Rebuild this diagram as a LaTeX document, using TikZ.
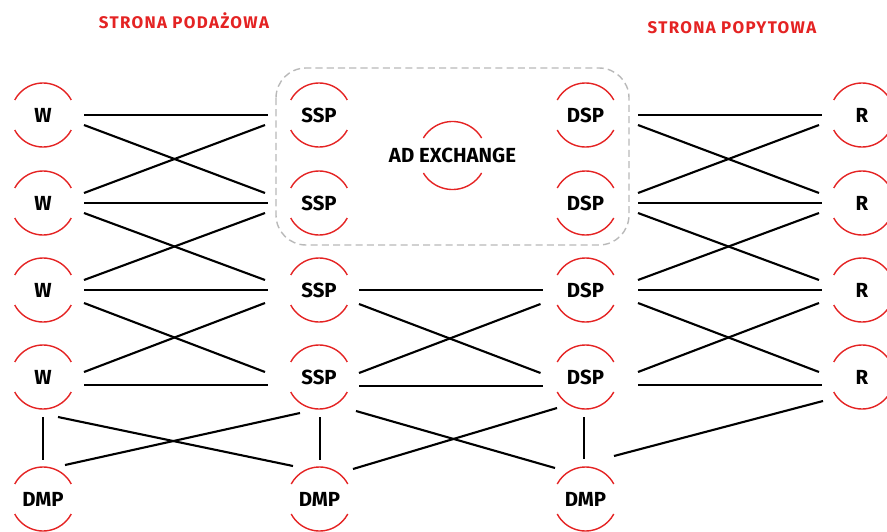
\documentclass[tikz,border=0pt]{standalone}
\usepackage{fontspec}
\setmainfont{Fira Sans}
\newfontfamily\sidefont[LetterSpace=8]{Fira Sans}
\usepackage{xcolor}
\definecolor{adred}{RGB}{228,35,35}

\begin{document}
\begin{tikzpicture}[x=0.25mm, y=0.25mm,
    hub/.style={font=\fontsize{14.5}{17}\selectfont\bfseries, inner sep=0pt},
    hubarc/.style={adred, line width=1pt},
    link/.style={line width=1.5pt},
    side/.style={adred, font=\sidefont\fontsize{12}{14}\selectfont\bfseries}]
  \useasboundingbox (0,0) rectangle (887,-532);

  % ---- Titles ----
  \node[side] (supply) at (184,-21) {STRONA PODAŻOWA};
  \node[side] (demand) at (732,-28) {STRONA POPYTOWA};

  % ---- Ad exchange frame ----
  \draw[gray!55, line width=1pt, dash pattern=on 5pt off 3pt, rounded corners=7.5mm]
    (276,-68) rectangle (629,-245);

  % ---- Nodes ----
  \node[hub] (w1) at (43,-115) {W};
  \node[hub] (w2) at (43,-203) {W};
  \node[hub] (w3) at (43,-290) {W};
  \node[hub] (w4) at (43,-377) {W};
  \node[hub] (ssp1) at (319,-115) {SSP};
  \node[hub] (ssp2) at (319,-203) {SSP};
  \node[hub] (ssp3) at (319,-290) {SSP};
  \node[hub] (ssp4) at (319,-377) {SSP};
  \node[hub] (dsp1) at (585.5,-115) {DSP};
  \node[hub] (dsp2) at (585.5,-203) {DSP};
  \node[hub] (dsp3) at (585.5,-290) {DSP};
  \node[hub] (dsp4) at (585.5,-377) {DSP};
  \node[hub] (r1) at (862,-115) {R};
  \node[hub] (r2) at (862,-203) {R};
  \node[hub] (r3) at (862,-290) {R};
  \node[hub] (r4) at (862,-377) {R};
  \node[hub] (dmp1) at (43,-499) {DMP};
  \node[hub] (dmp2) at (319.5,-499) {DMP};
  \node[hub] (dmp3) at (585.5,-499) {DMP};
  \node[hub] (adx) at (452.5,-155.5) {AD EXCHANGE};

  % ---- Red half rings ----
  \foreach \n in {w1,w2,w3,w4,ssp1,ssp2,ssp3,ssp4,dsp1,dsp2,dsp3,dsp4,r1,r2,r3,r4,dmp1,dmp2,dmp3}{
    \draw[hubarc] ([shift={(28:32)}]\n.center) arc (28:152:32);
    \draw[hubarc] ([shift={(208:32)}]\n.center) arc (208:332:32);
  }
  \draw[hubarc] ([shift={(31:34)}]adx.center) arc (31:149:34);
  \draw[hubarc] ([shift={(211:34)}]adx.center) arc (211:329:34);

  % ---- W -- SSP ----
  \draw[link] ([shift={(41,0)}]w1.center) -- ([shift={(-51,0)}]ssp1.center);
  \draw[link] ([shift={(41,0)}]w2.center) -- ([shift={(-51,0)}]ssp2.center);
  \draw[link] ([shift={(41,0)}]w3.center) -- ([shift={(-51,0)}]ssp3.center);
  \draw[link] ([shift={(41,-8)}]w4.center) -- ([shift={(-51,-8)}]ssp4.center);
  \draw[link] ([shift={(41,-10)}]w1.center) -- ([shift={(-54,10)}]ssp2.center);
  \draw[link] ([shift={(41,10)}]w2.center) -- ([shift={(-54,-10)}]ssp1.center);
  \draw[link] ([shift={(41,-10)}]w2.center) -- ([shift={(-54,10)}]ssp3.center);
  \draw[link] ([shift={(41,10)}]w3.center) -- ([shift={(-54,-10)}]ssp2.center);
  \draw[link] ([shift={(41,-13)}]w3.center) -- ([shift={(-54,5)}]ssp4.center);
  \draw[link] ([shift={(41,5)}]w4.center) -- ([shift={(-54,-13)}]ssp3.center);

  % ---- SSP -- DSP ----
  \draw[link] ([shift={(40,0)}]ssp3.center) -- ([shift={(-42.5,0)}]dsp3.center);
  \draw[link] ([shift={(40,-9)}]ssp4.center) -- ([shift={(-42.5,-9)}]dsp4.center);
  \draw[link] ([shift={(40,-14)}]ssp3.center) -- ([shift={(-45,4)}]dsp4.center);
  \draw[link] ([shift={(40,4)}]ssp4.center) -- ([shift={(-45,-14)}]dsp3.center);

  % ---- DSP -- R ----
  \draw[link] ([shift={(52.5,0)}]dsp1.center) -- ([shift={(-40,0)}]r1.center);
  \draw[link] ([shift={(52.5,0)}]dsp2.center) -- ([shift={(-40,0)}]r2.center);
  \draw[link] ([shift={(52.5,0)}]dsp3.center) -- ([shift={(-40,0)}]r3.center);
  \draw[link] ([shift={(52.5,-8)}]dsp4.center) -- ([shift={(-40,-8)}]r4.center);
  \draw[link] ([shift={(52.5,-10)}]dsp1.center) -- ([shift={(-43,10)}]r2.center);
  \draw[link] ([shift={(52.5,10)}]dsp2.center) -- ([shift={(-43,-10)}]r1.center);
  \draw[link] ([shift={(52.5,-10)}]dsp2.center) -- ([shift={(-43,10)}]r3.center);
  \draw[link] ([shift={(52.5,10)}]dsp3.center) -- ([shift={(-43,-10)}]r2.center);
  \draw[link] ([shift={(52.5,-13)}]dsp3.center) -- ([shift={(-43,5)}]r4.center);
  \draw[link] ([shift={(52.5,5)}]dsp4.center) -- ([shift={(-43,-13)}]r3.center);

  % ---- DMP links ----
  \draw[link] ([shift={(0,-40)}]w4.center) -- ([shift={(0,39)}]dmp1.center);
  \draw[link] ([shift={(15,-40)}]w4.center) -- ([shift={(-26.5,33)}]dmp2.center);
  \draw[link] ([shift={(22,34)}]dmp1.center) -- ([shift={(-19,-36)}]ssp4.center);
  \draw[link] ([shift={(1,-40)}]ssp4.center) -- ([shift={(0.5,39)}]dmp2.center);
  \draw[link] ([shift={(37,-34)}]ssp4.center) -- ([shift={(-30.5,31)}]dmp3.center);
  \draw[link] ([shift={(33.5,30)}]dmp2.center) -- ([shift={(-28.5,-31)}]dsp4.center);
  \draw[link] ([shift={(-1.5,-40)}]dsp4.center) -- ([shift={(-1.5,40)}]dmp3.center);
  \draw[link] ([shift={(28.5,43)}]dmp3.center) -- ([shift={(-39,-24)}]r4.center);
\end{tikzpicture}
\end{document}
